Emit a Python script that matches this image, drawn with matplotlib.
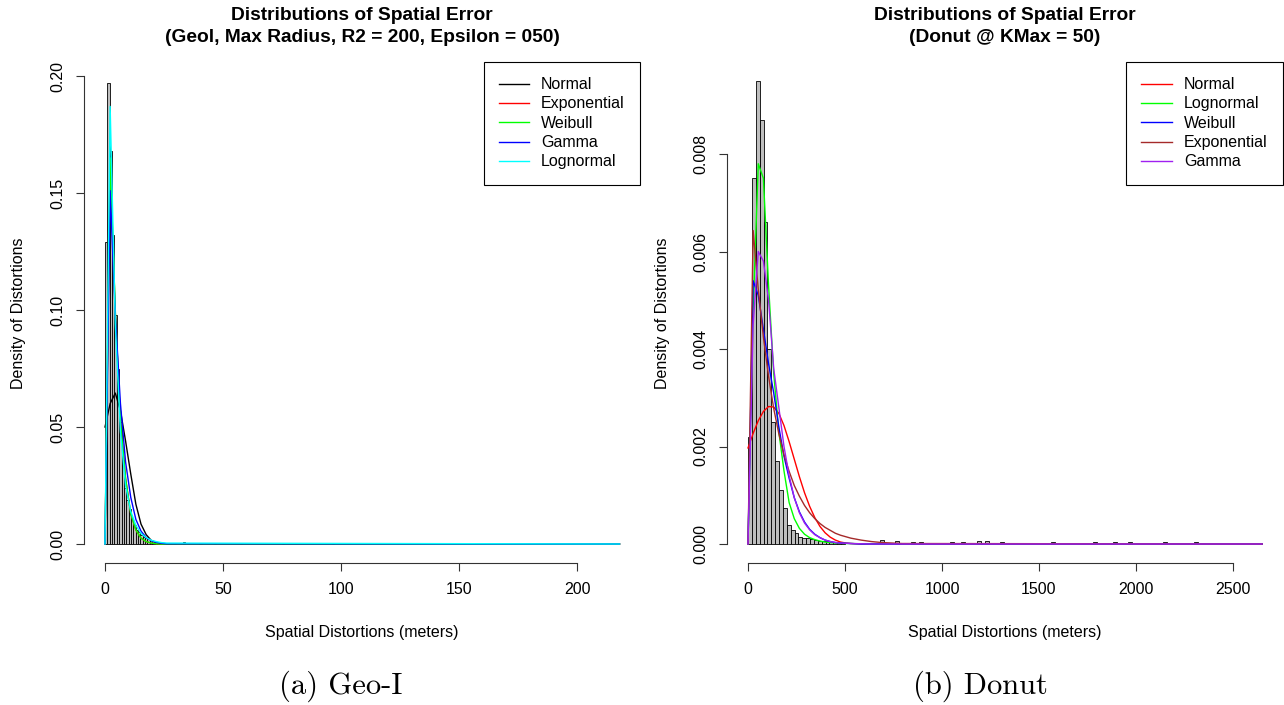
import numpy as np
import matplotlib.pyplot as plt

plt.rcParams['font.family'] = ['Liberation Sans', 'DejaVu Sans']

# ---- Geo-I panel (left) ----
geo_bin_width = 1
geo_heights = [0.129, 0.197, 0.168, 0.132, 0.098, 0.075, 0.052, 0.036, 0.024, 0.019,
               0.015, 0.011, 0.008, 0.006, 0.005, 0.004, 0.003, 0.0025, 0.002, 0.0015,
               0.0012, 0.001, 0.0008, 0.0006, 0.0005, 0.0004, 0.0003, 0.0003, 0.0002, 0.0002]
geo_tail_starts = [33, 40, 46, 57, 75, 96]
geo_tail_heights = [0.0008, 0.0006, 0.0005, 0.0005, 0.0004, 0.0003]

geo_curve_x = [0, 2.18, 4.36, 6.54, 8.72, 10.9, 13.08, 15.26, 17.44, 19.62, 21.8, 23.98, 26.16, 218]
geo_normal = [0.050, 0.060, 0.0645, 0.057, 0.044, 0.030, 0.017, 0.0085, 0.0040, 0.0015, 0.0005, 0.0001, 0.0, 0.0]
geo_expon = [0.0, 0.163, 0.099, 0.053, 0.028, 0.013, 0.006, 0.0025, 0.001, 0.0004, 0.0001, 0.0, 0.0, 0.0]
geo_weibull = [0.0, 0.165, 0.100, 0.053, 0.028, 0.013, 0.006, 0.0025, 0.001, 0.0004, 0.0001, 0.0, 0.0, 0.0]
geo_gamma = [0.0, 0.151, 0.098, 0.060, 0.035, 0.020, 0.0105, 0.0055, 0.0028, 0.0014, 0.0007, 0.0003, 0.0001, 0.0]
geo_lognorm = [0.0, 0.187, 0.094, 0.048, 0.025, 0.014, 0.008, 0.0045, 0.0027, 0.0016, 0.001, 0.0006, 0.0004, 0.0]

# ---- Donut panel (right) ----
donut_bin_width = 20
donut_heights = [0.0022, 0.0075, 0.0095, 0.0087, 0.0066, 0.0040, 0.0025, 0.0017, 0.0011, 0.00074,
                 0.00039, 0.00029, 0.00023, 0.00015, 0.00013, 0.00012, 0.0001, 0.00008, 0.00007, 0.00007,
                 0.00006, 0.00005, 0.00004, 0.00004, 0.00003]
donut_tail_starts = [680, 760, 840, 880, 1040, 1100, 1180, 1220, 1300, 1560, 1780, 1880, 1960, 2140, 2300]
donut_tail_heights = [0.00008, 0.00007, 0.00004, 0.00004, 0.00005, 0.00004, 0.00007, 0.00006, 0.00004,
                      0.00004, 0.00004, 0.00004, 0.00004, 0.00005, 0.00004]

donut_curve_x = [0, 26.5, 53, 79.5, 106, 132.5, 159, 185.5, 212, 238.5, 265, 291.5, 318, 344.5,
                 371, 397.5, 424, 450.5, 477, 503.5, 530, 583, 636, 689, 795, 2650]
donut_normal = [0.00197, 0.00227, 0.00253, 0.00272, 0.00282, 0.00281, 0.00268, 0.00243, 0.00210, 0.00174,
                0.00138, 0.00105, 0.00077, 0.00054, 0.00036, 0.00023, 0.00014, 0.00008, 0.00004, 0.00002,
                0.00001, 0, 0, 0, 0, 0]
donut_lognorm = [0, 0.0048, 0.0078, 0.0075, 0.0053, 0.0035, 0.0023, 0.0015, 0.00085, 0.00052,
                 0.00032, 0.0002, 0.00013, 0.00009, 0.00006, 0.00004, 0.00003, 0.00002, 0.000015, 0.00001,
                 0.00001, 0.000005, 0, 0, 0, 0]
donut_weibull = [0, 0.0054, 0.0051, 0.0044, 0.0037, 0.0031, 0.0024, 0.0018, 0.00135, 0.00095,
                 0.00066, 0.00045, 0.0003, 0.0002, 0.00013, 0.00008, 0.00005, 0.00003, 0.00002, 0.000015,
                 0.00001, 0, 0, 0, 0, 0]
donut_expon = [0, 0.00643, 0.00522, 0.00424, 0.00344, 0.00278, 0.00226, 0.00183, 0.00149, 0.00120,
               0.00098, 0.00079, 0.00064, 0.00052, 0.00042, 0.00034, 0.00028, 0.00022, 0.00018, 0.00015,
               0.00012, 0.00008, 0.00005, 0.00003, 0.00001, 0]
donut_gamma = [0, 0.0045, 0.0060, 0.0058, 0.0050, 0.0036, 0.0028, 0.0020, 0.0014, 0.00095,
               0.00064, 0.00043, 0.00029, 0.00019, 0.00013, 0.00008, 0.00005, 0.00003, 0.00002, 0.000015,
               0.00001, 0.000005, 0, 0, 0, 0]

W, H = 1284, 705
fig = plt.figure(figsize=(W / 100, H / 100), dpi=100, facecolor='white')

FS = 11.5  # base text size


def px_axes(x0, y0, x1, y1):
    # pixel box (top-left origin) -> figure axes
    return fig.add_axes([x0 / W, 1 - y1 / H, (x1 - x0) / W, (y1 - y0) / H])


def draw_panel(ax, bin_w, heights, tail_starts, tail_heights, cx, curves, xticks, yticks, yfmt,
               xlim, ylim):
    starts = [i * bin_w for i in range(len(heights))]
    ax.bar(starts, heights, width=bin_w, align='edge', color='#BEBEBE',
           edgecolor='black', linewidth=0.6, zorder=1)
    ax.bar(tail_starts, tail_heights, width=bin_w, align='edge', color='#BEBEBE',
           edgecolor='black', linewidth=0.6, zorder=1)
    for name, vals, col in curves:
        ax.plot(cx, vals, color=col, linewidth=1.0, label=name, zorder=2)
    ax.set_xlim(*xlim)
    ax.set_ylim(*ylim)
    for s in ['top', 'right']:
        ax.spines[s].set_visible(False)
    ax.spines['bottom'].set_bounds(xticks[0], xticks[-1])
    ax.spines['left'].set_bounds(yticks[0], yticks[-1])
    for s in ['bottom', 'left']:
        ax.spines[s].set_linewidth(0.8)
        ax.spines[s].set_color('#333333')
    ax.set_xticks(xticks)
    ax.set_yticks(yticks)
    ax.set_yticklabels([yfmt.format(v) for v in yticks], rotation=90, va='center')
    ax.tick_params(axis='both', length=6, width=0.8, color='#333333', labelsize=FS, pad=8)
    ax.patch.set_alpha(0)
    leg = ax.legend(loc='upper right', bbox_to_anchor=(1.0, 1.005), borderaxespad=0,
                    fancybox=False, edgecolor='black', framealpha=1, fontsize=FS,
                    handlelength=1.9, handletextpad=0.75, labelspacing=0.27,
                    borderpad=0.95)
    leg.get_frame().set_linewidth(0.8)


# left panel: 0 -> px 105, 2.36 px per metre; 0 -> py 544, 2340 px per unit density
axl = px_axes(84.4, 64.5, 640, 562.5)
draw_panel(axl, geo_bin_width, geo_heights, geo_tail_starts, geo_tail_heights, geo_curve_x,
           [('Normal', geo_normal, 'black'), ('Exponential', geo_expon, 'red'),
            ('Weibull', geo_weibull, '#00FF00'), ('Gamma', geo_gamma, 'blue'),
            ('Lognormal', geo_lognorm, 'cyan')],
           [0, 50, 100, 150, 200], [0, 0.05, 0.10, 0.15, 0.20], '{:.2f}',
           ((84.4 - 105) / 2.36, (640 - 105) / 2.36), ((544 - 562.5) / 2340, (544 - 64.5) / 2340))

# right panel: 0 -> px 748, 0.194 px per metre; 0 -> py 544, 48750 px per unit density
axr = px_axes(727.4, 64.5, 1282.6, 562.5)
draw_panel(axr, donut_bin_width, donut_heights, donut_tail_starts, donut_tail_heights, donut_curve_x,
           [('Normal', donut_normal, 'red'), ('Lognormal', donut_lognorm, '#00FF00'),
            ('Weibull', donut_weibull, 'blue'), ('Exponential', donut_expon, '#A52A2A'),
            ('Gamma', donut_gamma, '#A020F0')],
           [0, 500, 1000, 1500, 2000, 2500], [0, 0.002, 0.004, 0.006, 0.008], '{:.3f}',
           ((727.4 - 748) / 0.194, (1282.6 - 748) / 0.194), ((544 - 562.5) / 48750, (544 - 64.5) / 48750))


def ftext(x, y, s, **kw):
    fig.text(x / W, 1 - y / H, s, ha='center', va='center', **kw)


ftext(362, 15, 'Distributions of Spatial Error', fontsize=13.8, fontweight='bold')
ftext(362, 37, '(Geol, Max Radius, R2 = 200, Epsilon = 050)', fontsize=13.8, fontweight='bold')
ftext(1005, 15, 'Distributions of Spatial Error', fontsize=13.8, fontweight='bold')
ftext(1005, 37, '(Donut @ KMax = 50)', fontsize=13.8, fontweight='bold')

ftext(362, 632, 'Spatial Distortions (meters)', fontsize=FS)
ftext(1005, 632, 'Spatial Distortions (meters)', fontsize=FS)
ftext(19, 313, 'Density of Distortions', fontsize=FS, rotation=90)
ftext(662, 313, 'Density of Distortions', fontsize=FS, rotation=90)

ftext(341, 686, '(a) Geo-I', fontsize=22, family='cmr10')
ftext(980, 686, '(b) Donut', fontsize=22, family='cmr10')

fig.savefig('out.png', dpi=100, facecolor='white')
